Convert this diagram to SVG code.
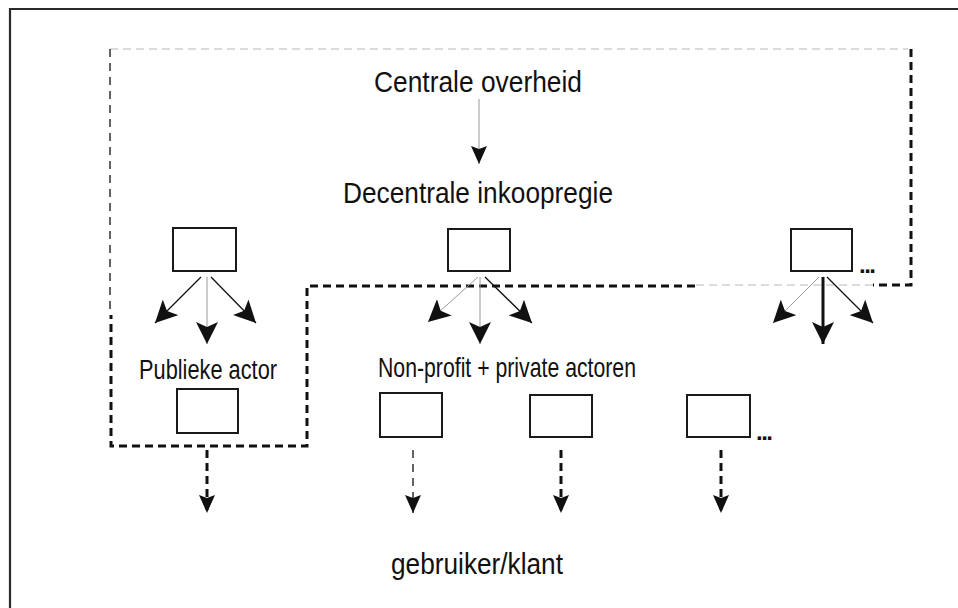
<svg xmlns="http://www.w3.org/2000/svg" width="958" height="608" viewBox="0 0 958 608">
<style>
.t{font-family:"Liberation Sans",Arial,sans-serif;fill:#111;}
.box{fill:#fff;stroke:#1a1a1a;stroke-width:2;}
.thin-g{stroke:#9a9a9a;stroke-width:1;fill:none;}
.thin-k{stroke:#111;stroke-width:1.3;fill:none;}
.thick-k{stroke:#111;stroke-width:3;fill:none;}
.dthick{stroke:#111;stroke-width:3;fill:none;stroke-dasharray:8 5;}
.dthin{stroke:#111;stroke-width:1.3;fill:none;stroke-dasharray:8 6;}
.dgray{stroke:#b8b8b8;stroke-width:1.2;fill:none;stroke-dasharray:8 5;}
.dots{font-family:"Liberation Sans",Arial,sans-serif;font-weight:bold;font-size:24px;fill:#111;letter-spacing:-1.5px;}
</style>
<defs>
<marker id="ah" viewBox="0 0 22 22" refX="22" refY="11" markerWidth="22" markerHeight="22" markerUnits="userSpaceOnUse" orient="auto">
<path d="M0,0 L22,11 L0,22 L5,11 Z" fill="#111"/>
</marker>
<marker id="ahs" viewBox="0 0 18 16" refX="18" refY="8" markerWidth="18" markerHeight="16" markerUnits="userSpaceOnUse" orient="auto">
<path d="M0,0 L18,8 L0,16 L3,8 Z" fill="#111"/>
</marker>
</defs>
<rect width="958" height="608" fill="#fff"/>
<g id="frame">
<path d="M10,608 V9 H958" fill="none" stroke="#2a2a2a" stroke-width="2.2"/>
</g>
<g id="boundary">
<path class="dgray" d="M110,49 H908"/>
<path class="dthin" d="M110,49 V312"/>
<path class="dthick" d="M911,49 V285 H873"/>
<path class="dgray" d="M873,285 H695"/>
<path class="dthick" d="M695,286 H307 V446 H111 V315"/>
</g>
<g id="labels">
<text class="t" x="478" y="92" font-size="30" text-anchor="middle" textLength="208" lengthAdjust="spacingAndGlyphs">Centrale overheid</text>
<text class="t" x="478" y="203" font-size="30" text-anchor="middle" textLength="270" lengthAdjust="spacingAndGlyphs">Decentrale inkoopregie</text>
<text class="t" x="208" y="379" font-size="27" text-anchor="middle" textLength="138" lengthAdjust="spacingAndGlyphs">Publieke actor</text>
<text class="t" x="507" y="377" font-size="28" text-anchor="middle" textLength="258" lengthAdjust="spacingAndGlyphs">Non-profit + private actoren</text>
<text class="t" x="477" y="574" font-size="30" text-anchor="middle" textLength="172" lengthAdjust="spacingAndGlyphs">gebruiker/klant</text>
</g>
<g id="box-r1-left"><rect class="box" x="173" y="228" width="63" height="43"/></g>
<g id="box-r1-mid"><rect class="box" x="448" y="229" width="62" height="42"/></g>
<g id="box-r1-right"><rect class="box" x="791" y="229" width="61" height="42"/><text class="dots" x="859" y="273">...</text></g>
<g id="box-publiek"><rect class="box" x="177" y="389" width="61" height="44"/></g>
<g id="box-np1"><rect class="box" x="380" y="393" width="62" height="44"/></g>
<g id="box-np2"><rect class="box" x="530" y="395" width="62" height="42"/></g>
<g id="box-np3"><rect class="box" x="687" y="395" width="63" height="42"/><text class="dots" x="756" y="440">...</text></g>
<g id="connectors">
<path class="thin-g" d="M479,99 V164" marker-end="url(#ahs)"/>
<path class="thin-k" d="M201,277 L155,323" marker-end="url(#ah)"/>
<path class="thin-g" d="M207,277 V344" marker-end="url(#ah)"/>
<path class="thin-k" d="M211,277 L256,323" marker-end="url(#ah)"/>
<path class="thin-g" d="M478,277 L428,322" marker-end="url(#ah)"/>
<path class="thin-g" d="M480,277 V344" marker-end="url(#ah)"/>
<path class="thin-k" d="M485,277 L532,323" marker-end="url(#ah)"/>
<path class="thin-g" d="M819,277 L773,323" marker-end="url(#ah)"/>
<path class="thick-k" d="M823,277 V344" marker-end="url(#ah)"/>
<path class="thin-k" d="M827,277 L873,323" marker-end="url(#ah)"/>
<path class="dthick" d="M207,450 V513" marker-end="url(#ahs)"/>
<path class="dthin" d="M413,450 V513" marker-end="url(#ahs)"/>
<path class="dthick" d="M561,450 V513" marker-end="url(#ahs)"/>
<path class="dthick" d="M721,450 V513" marker-end="url(#ahs)"/>
</g>
</svg>
